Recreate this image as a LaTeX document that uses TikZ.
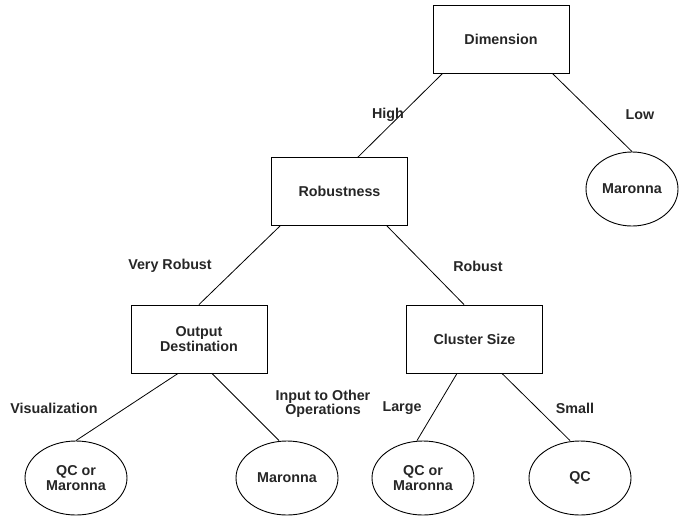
\documentclass[tikz,border=0pt]{standalone}
\usepackage{fontspec}
\setmainfont{Liberation Sans}
\usetikzlibrary{shapes.geometric}
\begin{document}
\begin{tikzpicture}[x=1pt,y=-1pt,
  every node/.style={font=\fontsize{14.3}{16}\selectfont\bfseries, text=black!85},
  box/.style={draw, line width=0.9pt, minimum width=136pt, minimum height=68pt, inner sep=0pt, align=center},
  leaf/.style={draw, ellipse, line width=0.9pt, minimum width=102pt, minimum height=74pt, inner sep=0pt, align=center},
  lbl/.style={align=center},
  conn/.style={line width=0.8pt}]
\useasboundingbox (0,0) rectangle (680,515);
% boxes
\node[box] (dim) at (501,39) {Dimension};
\node[box] (rob) at (339.5,191.5) {Robustness};
\node[box] (out) at (199,339) {Output\\[-1pt]Destination};
\node[box] (clu) at (474.5,339) {Cluster Size};
% leaves
\node[leaf, minimum width=92pt] (m1) at (632,189) {Maronna};
\node[leaf] (l1) at (76,478) {QC or\\[-1pt]Maronna};
\node[leaf] (l2) at (287,478) {Maronna};
\node[leaf] (l3) at (423,478) {QC or\\[-1pt]Maronna};
\node[leaf] (l4) at (580,478) {QC};
% connectors
\draw[conn] ([xshift=10pt]dim.south west) -- ([xshift=18.5pt]rob.north);
\draw[conn] ([xshift=-17pt]dim.south east) -- (m1.north);
\draw[conn] ([xshift=9pt]rob.south west) -- (out.north);
\draw[conn] ([xshift=-21pt]rob.south east) -- ([xshift=-10.5pt]clu.north);
\draw[conn] ([xshift=-21pt]out.south) -- (l1.north);
\draw[conn] ([xshift=13pt]out.south) -- ([xshift=-8pt]l2.north);
\draw[conn] ([xshift=-17.5pt]clu.south) -- ([xshift=-6pt]l3.north);
\draw[conn] ([xshift=27.5pt]clu.south) -- ([xshift=-10pt]l4.north);
% labels
\node[lbl] (tHigh) at (388,115) {High};
\node[lbl] (tLow) at (640,115) {Low};
\node[lbl] (tVR) at (170,266) {Very Robust};
\node[lbl] (tR) at (478,266) {Robust};
\node[lbl] (tVis) at (54,408) {Visualization};
\node[lbl] (tIn) at (323,404) {Input to Other\\[-2pt]Operations};
\node[lbl] (tL) at (402,408) {Large};
\node[lbl] (tS) at (575,408) {Small};
\end{tikzpicture}
\end{document}
